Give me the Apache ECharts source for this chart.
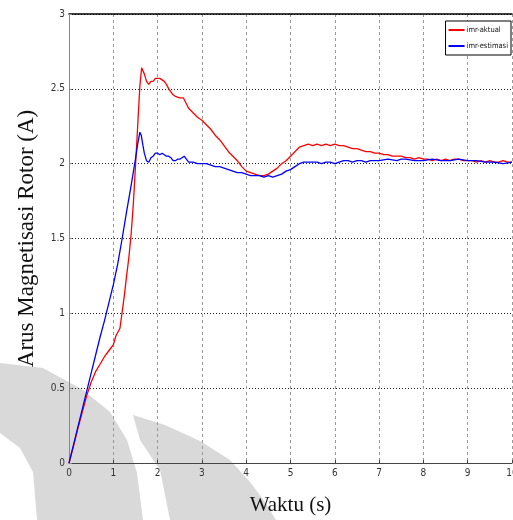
<!DOCTYPE html>
<html>
<head>
<meta charset="utf-8">
<script src="https://cdn.jsdelivr.net/npm/echarts@6/dist/echarts.min.js"></script>
<style>
  html, body { margin: 0; padding: 0; background: #fff; }
  #chart { width: 513px; height: 520px; }
</style>
</head>
<body>
<div id="chart"></div>
<script>
// imr-aktual (red)
const aktualT = [0, 0.1, 0.2, 0.3, 0.4, 0.5, 0.6, 0.7, 0.8, 0.9, 0.95, 1.0, 1.03, 1.06, 1.1, 1.15,
  1.2, 1.25, 1.3, 1.35, 1.4, 1.45, 1.5, 1.55, 1.6, 1.64, 1.67, 1.7, 1.75, 1.8, 1.85, 1.9, 1.95,
  2.0, 2.05, 2.1, 2.15, 2.2, 2.25, 2.3, 2.35, 2.4, 2.5, 2.58, 2.65, 2.7, 2.8, 2.9, 3.0, 3.1, 3.2,
  3.3, 3.4, 3.5, 3.6, 3.7, 3.8, 3.9, 4.0, 4.1, 4.2, 4.3, 4.4, 4.5, 4.6, 4.7, 4.8, 4.9, 5.0, 5.1,
  5.2, 5.3, 5.4, 5.5, 5.6, 5.7, 5.8, 5.9, 6.0, 6.1, 6.2, 6.3, 6.4, 6.5, 6.6, 6.7, 6.8, 6.9, 7.0,
  7.1, 7.2, 7.3, 7.4, 7.5, 7.6, 7.7, 7.8, 7.9, 8.0, 8.1, 8.2, 8.3, 8.4, 8.5, 8.6, 8.7, 8.8, 8.9,
  9.0, 9.1, 9.2, 9.3, 9.4, 9.5, 9.6, 9.7, 9.8, 9.9, 10]
const aktualV = [0, 0.11, 0.23, 0.34, 0.45, 0.54, 0.61, 0.66, 0.71, 0.75, 0.77, 0.79, 0.8, 0.85, 0.86, 0.9,
  1.01, 1.12, 1.25, 1.37, 1.52, 1.72, 1.98, 2.25, 2.52, 2.64, 2.63, 2.6, 2.55, 2.53, 2.55, 2.55, 2.57,
  2.57, 2.57, 2.56, 2.55, 2.53, 2.5, 2.48, 2.46, 2.45, 2.44, 2.44, 2.4, 2.37, 2.34, 2.31, 2.29, 2.26, 2.23,
  2.19, 2.16, 2.12, 2.08, 2.05, 2.02, 1.98, 1.95, 1.94, 1.93, 1.92, 1.92, 1.93, 1.95, 1.97, 2.0, 2.02, 2.05, 2.08,
  2.11, 2.12, 2.13, 2.12, 2.13, 2.12, 2.13, 2.12, 2.13, 2.12, 2.12, 2.11, 2.1, 2.1, 2.09, 2.08, 2.08, 2.07, 2.07,
  2.06, 2.06, 2.05, 2.05, 2.05, 2.04, 2.04, 2.03, 2.04, 2.03, 2.03, 2.02, 2.03, 2.02, 2.03, 2.02, 2.03, 2.03, 2.02,
  2.02, 2.02, 2.01, 2.02, 2.01, 2.02, 2.01, 2.01, 2.02, 2.01, 2.01]

// imr-estimasi (blue)
const estimasiT = [0, 0.1, 0.2, 0.3, 0.4, 0.5, 0.6, 0.7, 0.8, 0.9, 1.0, 1.1, 1.2, 1.3, 1.4, 1.45, 1.5,
  1.55, 1.6, 1.63, 1.67, 1.7, 1.75, 1.8, 1.85, 1.9, 1.95, 2.0, 2.05, 2.1, 2.15, 2.2, 2.25, 2.3, 2.35,
  2.4, 2.45, 2.5, 2.55, 2.6, 2.65, 2.7, 2.8, 2.9, 3.0, 3.1, 3.2, 3.3, 3.4, 3.5, 3.6, 3.7, 3.8, 3.9,
  4.0, 4.1, 4.2, 4.3, 4.4, 4.5, 4.6, 4.7, 4.8, 4.9, 5.0, 5.1, 5.2, 5.3, 5.4, 5.5, 5.6, 5.7, 5.8, 5.9,
  6.0, 6.1, 6.2, 6.3, 6.4, 6.5, 6.6, 6.7, 6.8, 6.9, 7.0, 7.2, 7.4, 7.5, 7.6, 7.8, 8.0, 8.2, 8.4, 8.6,
  8.8, 9.0, 9.2, 9.4, 9.6, 9.8, 10]
const estimasiV = [0, 0.12, 0.24, 0.36, 0.48, 0.6, 0.72, 0.84, 0.95, 1.07, 1.19, 1.33, 1.5, 1.68, 1.85, 1.94, 2.03,
  2.13, 2.21, 2.19, 2.12, 2.07, 2.02, 2.01, 2.04, 2.05, 2.07, 2.07, 2.06, 2.07, 2.06, 2.05, 2.05, 2.04, 2.02,
  2.02, 2.03, 2.03, 2.04, 2.05, 2.03, 2.01, 2.01, 2.0, 2.0, 2.0, 1.99, 1.98, 1.98, 1.97, 1.96, 1.95, 1.94, 1.94,
  1.93, 1.92, 1.92, 1.92, 1.91, 1.92, 1.91, 1.92, 1.93, 1.95, 1.96, 1.98, 2.0, 2.01, 2.01, 2.01, 2.01, 2.0, 2.01, 2.01,
  2.0, 2.01, 2.02, 2.02, 2.01, 2.02, 2.02, 2.01, 2.02, 2.02, 2.02, 2.03, 2.02, 2.03, 2.03, 2.02, 2.02, 2.03, 2.02, 2.02,
  2.03, 2.02, 2.02, 2.01, 2.01, 2.0, 2.01]

const tickFont = "'Liberation Sans Narrow', 'DejaVu Sans Condensed', sans-serif"
const titleFont = "'Liberation Serif', 'DejaVu Serif', serif"

const chart = echarts.init(document.getElementById("chart"), null, { renderer: "canvas" })

chart.setOption({
  backgroundColor: "#fff",
  animation: false,
  // faint watermark in the background
  graphic: [
    {
      type: "polygon",
      z: -10,
      silent: true,
      shape: { points: [[0, 363], [43, 368], [83, 390], [110, 412], [127, 440], [137, 473], [143, 520],
        [37, 520], [33, 472], [20, 448], [0, 433]] },
      style: { fill: "#d9d9d9" },
    },
    {
      type: "polygon",
      z: -10,
      silent: true,
      shape: { points: [[133, 415], [165, 425], [200, 441], [230, 460], [250, 482], [265, 502], [276, 520],
        [170, 520], [160, 470], [140, 440]] },
      style: { fill: "#d9d9d9" },
    },
  ],
  legend: {
    orient: "vertical",
    right: 2,
    top: 21,
    data: ["imr-aktual", "imr-estimasi"],
    icon: "rect",
    itemWidth: 16,
    itemHeight: 2,
    itemGap: 8,
    padding: [5, 3, 5, 3],
    borderColor: "#000",
    borderWidth: 1,
    backgroundColor: "#fff",
    textStyle: { fontFamily: tickFont, fontSize: 7.5, color: "#111", padding: [0, 0, 0, -3] },
  },
  grid: { left: 69, right: 1, top: 14, bottom: 57, containLabel: false, outerBoundsMode: "none" },
  xAxis: [
    {
      type: "value",
      min: 0,
      max: 10,
      interval: 1,
      name: "Waktu (s)",
      nameLocation: "middle",
      nameGap: 32,
      nameTextStyle: { fontFamily: titleFont, fontSize: 21, color: "#111" },
      axisLine: { onZero: false, lineStyle: { color: "#444", width: 1 } },
      axisTick: { inside: true, length: 3, lineStyle: { color: "#444" } },
      axisLabel: { fontFamily: tickFont, fontSize: 10, color: "#333", margin: 5 },
      splitLine: { show: true, lineStyle: { color: "#999", type: [3, 3], width: 1 } },
    },
    {
      type: "value",
      position: "top",
      min: 0,
      max: 10,
      axisLine: { show: true, onZero: false, lineStyle: { color: "#000", width: 1.5 } },
      axisTick: { show: false },
      axisLabel: { show: false },
      splitLine: { show: false },
    },
  ],
  yAxis: {
    type: "value",
    min: 0,
    max: 3,
    interval: 0.5,
    name: "Arus Magnetisasi Rotor (A)",
    nameLocation: "middle",
    nameGap: 31,
    nameTextStyle: { fontFamily: titleFont, fontSize: 23, color: "#111" },
    axisLine: { show: true, lineStyle: { color: "#888", width: 1 } },
    axisTick: { inside: true, length: 3, lineStyle: { color: "#888" } },
    axisLabel: { fontFamily: tickFont, fontSize: 10, color: "#333", margin: 4 },
    splitLine: { show: true, lineStyle: { color: "#222", type: [1, 2], width: 1 } },
  },
  series: [
    {
      name: "imr-aktual",
      type: "line",
      xAxisIndex: 0,
      showSymbol: false,
      data: aktualT.map((t, i) => [t, aktualV[i]]),
      lineStyle: { color: "#ff0000", width: 1.3 },
      itemStyle: { color: "#ff0000" },
    },
    {
      name: "imr-estimasi",
      type: "line",
      xAxisIndex: 0,
      showSymbol: false,
      data: estimasiT.map((t, i) => [t, estimasiV[i]]),
      lineStyle: { color: "#0000ff", width: 1.3 },
      itemStyle: { color: "#0000ff" },
    },
  ],
})
</script>
</body>
</html>
